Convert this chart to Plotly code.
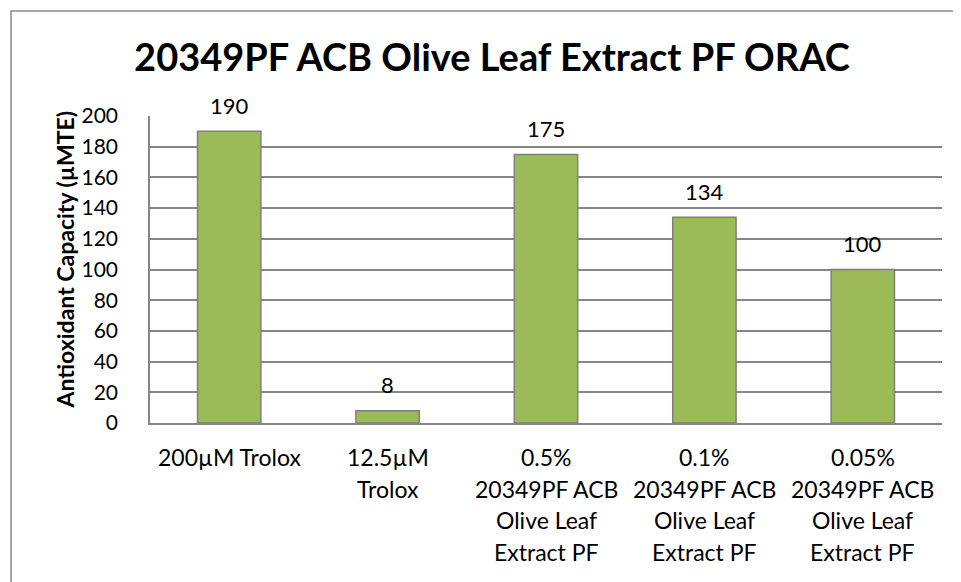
import plotly.graph_objects as go

# ---- data ----
categories = [
    "200µM Trolox",
    "12.5µM<br>Trolox",
    "0.5%<br>20349PF ACB<br>Olive Leaf<br>Extract PF",
    "0.1%<br>20349PF ACB<br>Olive Leaf<br>Extract PF",
    "0.05%<br>20349PF ACB<br>Olive Leaf<br>Extract PF",
]
values = [190, 8, 175, 134, 100]
value_labels = ["190", "8", "175", "134", "100"]
y_ticks = [0, 20, 40, 60, 80, 100, 120, 140, 160, 180, 200]

title_text = "20349PF ACB Olive Leaf Extract PF ORAC"
y_title = "Antioxidant Capacity (µMTE)"

# ---- layout constants (page has an 8px body margin) ----
OFF = 8
W, H = 961 - OFF, 582 - OFF
L, R, T, B = 150 - OFF, 19, 116 - OFF, 159
FONT = "Lato"
GRID = "#868686"
plot_w = W - L - R
plot_h = H - T - B

fig = go.Figure()
fig.add_trace(go.Bar(
    x=categories,
    y=values,
    width=0.4,
    marker=dict(color="#9BBB59", line=dict(color="#7F7F7F", width=1.5)),
    cliponaxis=False,
    hoverinfo="skip",
))

annotations = []
# value labels above bars
for cat, v, lab in zip(categories, values, value_labels):
    annotations.append(dict(
        x=cat, xref="x", y=v, yref="y",
        text=lab, showarrow=False,
        xanchor="center", yanchor="middle", yshift=26,
        font=dict(family=FONT, size=22, color="#000000"),
    ))

# multi-line category labels with wider line spacing
line_gap = 31.7
for cat in categories:
    for i, line in enumerate(cat.split("<br>")):
        annotations.append(dict(
            x=cat, xref="x", y=0, yref="paper",
            text=line, showarrow=False,
            xanchor="center", yanchor="middle",
            yshift=-(34 + i * line_gap),
            font=dict(family=FONT, size=23, color="#000000"),
        ))

# y-axis title
annotations.append(dict(
    x=0, xref="paper", y=0.5, yref="paper",
    text="<b>" + y_title + "</b>", showarrow=False,
    textangle=-90, xanchor="center", yanchor="middle",
    xshift=-86, yshift=10,
    font=dict(family=FONT, size=23, color="#000000"),
))

fig.update_layout(
    width=W, height=H,
    margin=dict(l=L, r=R, t=T, b=B, pad=0),
    paper_bgcolor="#FFFFFF",
    plot_bgcolor="#FFFFFF",
    showlegend=False,
    title=dict(
        text="<b>" + title_text + "</b>",
        x=(492 - OFF) / W, xanchor="center",
        y=1 - (58 - OFF) / H, yanchor="middle", yref="container",
        font=dict(family=FONT, size=38, color="#000000"),
    ),
    xaxis=dict(
        type="category",
        showticklabels=False,
        showgrid=False,
        showline=True, linecolor=GRID, linewidth=1.5,
        ticks="",
        range=[-0.5, len(categories) - 0.5],
    ),
    yaxis=dict(
        range=[0, 200],
        tickvals=y_ticks,
        showgrid=True, gridcolor=GRID, gridwidth=1.5,
        showline=True, linecolor=GRID, linewidth=1.5,
        ticks="",
        ticklabelstandoff=26,
        tickfont=dict(family=FONT, size=21, color="#000000"),
        zeroline=False,
    ),
    annotations=annotations,
    shapes=[dict(
        type="rect", xref="paper", yref="paper",
        x0=(11 - OFF - L) / plot_w, x1=2,
        y0=-1, y1=(H - B - (11 - OFF)) / plot_h,
        line=dict(color="#898989", width=1.5),
        fillcolor="rgba(0,0,0,0)", layer="below",
    )],
)

fig.write_html("out.html")
